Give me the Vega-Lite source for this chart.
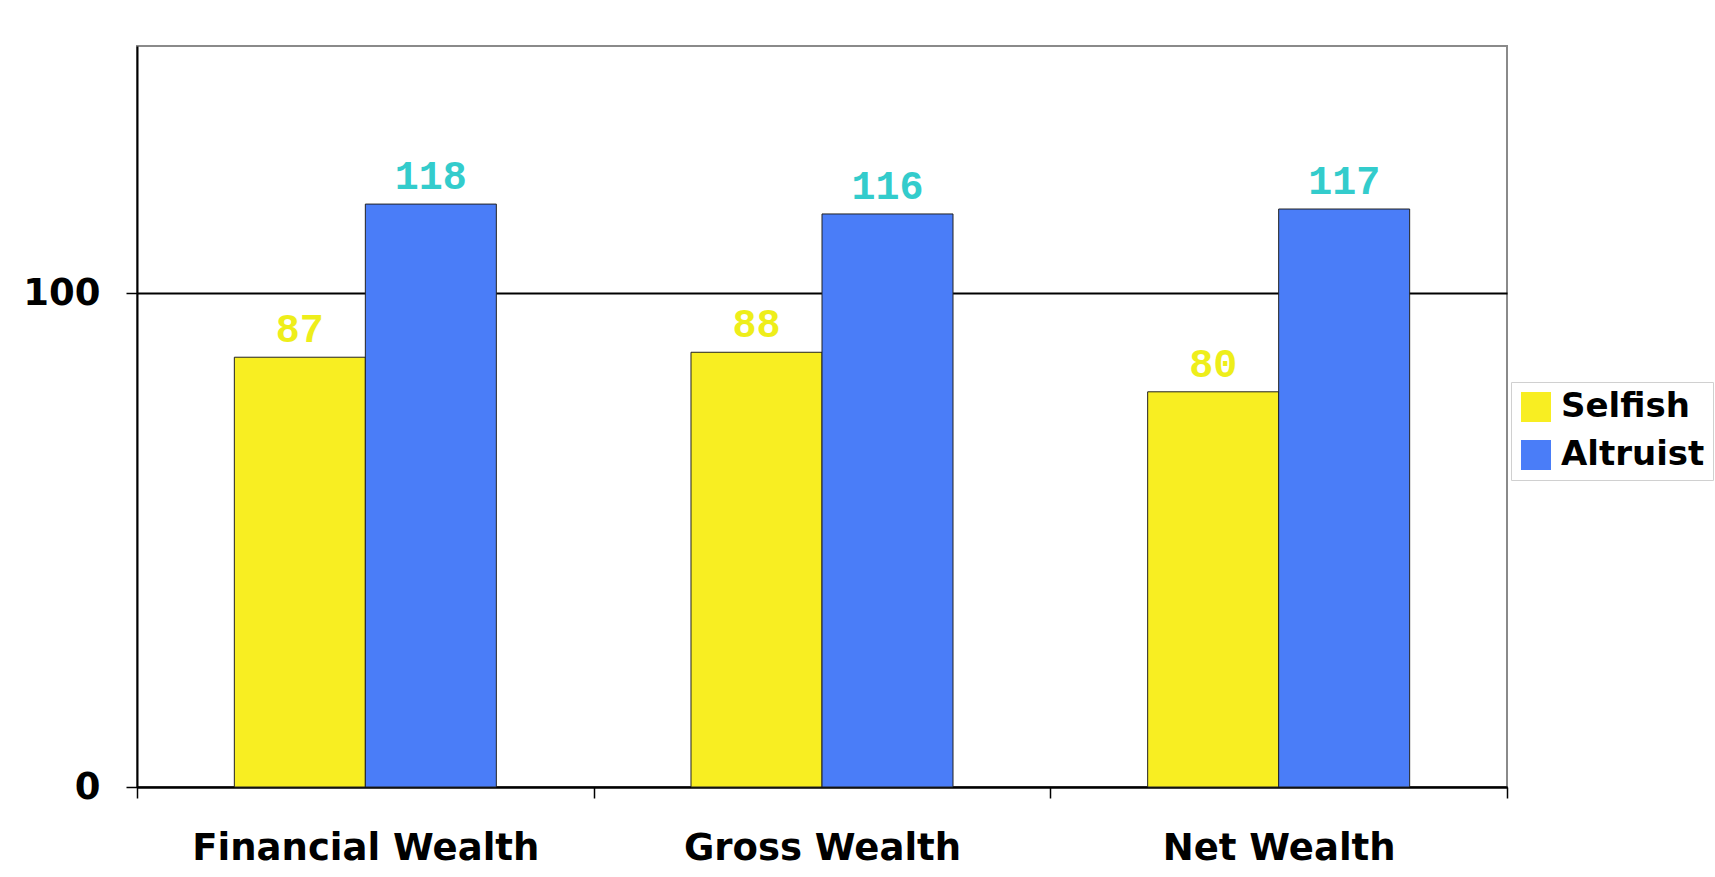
{
  "$schema": "https://vega.github.io/schema/vega-lite/v6.json",
  "width": 1370,
  "height": 741,
  "autosize": {"type": "none"},
  "padding": {"left": 137, "top": 46, "right": 208, "bottom": 90},
  "background": "white",
  "data": {
    "values": [
      {"category": "Financial Wealth", "series": "Selfish", "value": 87},
      {"category": "Financial Wealth", "series": "Altruist", "value": 118},
      {"category": "Gross Wealth", "series": "Selfish", "value": 88},
      {"category": "Gross Wealth", "series": "Altruist", "value": 116},
      {"category": "Net Wealth", "series": "Selfish", "value": 80},
      {"category": "Net Wealth", "series": "Altruist", "value": 117}
    ]
  },
  "config": {
    "view": {"stroke": "#8a8a8a", "strokeWidth": 2},
    "axis": {
      "labelFont": "DejaVu Sans",
      "labelFontWeight": "bold",
      "labelFontSize": 37,
      "labelColor": "black",
      "labelLimit": 0,
      "domainColor": "black",
      "domainWidth": 2,
      "tickColor": "black",
      "tickWidth": 1.5,
      "title": null
    }
  },
  "encoding": {
    "x": {
      "field": "category",
      "type": "nominal",
      "sort": null,
      "scale": {"paddingInner": 0, "paddingOuter": 0},
      "axis": {"labelAngle": 0, "tickBand": "extent", "tickSize": 11, "labelPadding": 32, "grid": false}
    },
    "xOffset": {
      "field": "series",
      "type": "nominal",
      "sort": ["Selfish", "Altruist"],
      "scale": {"paddingInner": 0, "paddingOuter": 0.743}
    },
    "y": {
      "field": "value",
      "type": "quantitative",
      "scale": {"domain": [0, 150], "nice": false},
      "axis": {"values": [0, 100], "grid": true, "gridColor": "black", "gridWidth": 2, "gridOpacity": 1, "tickSize": 11, "labelPadding": 26}
    }
  },
  "layer": [
    {
      "mark": {"type": "bar", "stroke": "#222222", "strokeWidth": 1},
      "encoding": {
        "color": {
          "field": "series",
          "type": "nominal",
          "sort": ["Selfish", "Altruist"],
          "scale": {"domain": ["Selfish", "Altruist"], "range": ["#F8EE22", "#4A7DF8"]},
          "legend": {
            "title": null,
            "orient": "none",
            "legendX": 1374,
            "legendY": 336,
            "symbolType": "square",
            "symbolSize": 900,
            "symbolStrokeWidth": 0,
            "symbolOpacity": 1,
            "labelFont": "DejaVu Sans",
            "labelFontWeight": "bold",
            "labelFontSize": 34,
            "labelColor": "black",
            "labelLimit": 0,
            "labelOffset": 8,
            "rowPadding": 14,
            "padding": 8,
            "strokeColor": "#d0d0d0",
            "fillColor": "white"
          }
        }
      }
    },
    {
      "mark": {"type": "text", "font": "Liberation Mono", "fontWeight": "bold", "fontSize": 40, "baseline": "alphabetic", "dy": -15},
      "encoding": {
        "text": {"field": "value", "type": "quantitative"},
        "color": {
          "condition": {"test": "datum.series === 'Selfish'", "value": "#EEEE1A"},
          "value": "#33CCCC"
        }
      }
    }
  ]
}
